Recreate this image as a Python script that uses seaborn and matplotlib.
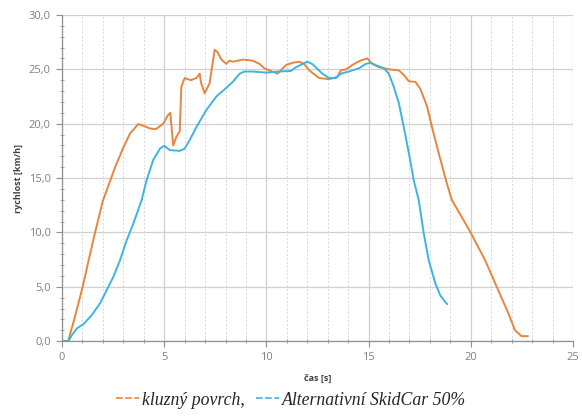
import pandas as pd
import seaborn as sns
import matplotlib

matplotlib.use('Agg')
import matplotlib.pyplot as plt
from matplotlib.lines import Line2D
from matplotlib.ticker import MultipleLocator, FuncFormatter

# cas [s] a rychlost [km/h] - kluzny povrch
kluzny_t = [0, 0.3, 0.6, 1.0, 1.3, 1.62, 2.0, 2.6, 3.0, 3.33,
            3.73, 4.0, 4.3, 4.6, 4.95, 5.19, 5.3, 5.44, 5.6, 5.76,
            5.84, 6.0, 6.3, 6.58, 6.74, 6.8, 6.98, 7.22, 7.3, 7.47,
            7.6, 7.8, 8.04, 8.2, 8.36, 8.85, 9.33, 9.66, 9.9, 10.15,
            10.55, 10.96, 11.28, 11.6, 11.85, 12.1, 12.58, 13.07, 13.47, 13.64,
            13.9, 14.29, 14.6, 14.94, 15.18, 15.5, 15.99, 16.48, 16.72, 16.97,
            17.29, 17.53, 17.86, 18.1, 18.43, 18.83, 19.07, 19.5, 19.97, 20.7,
            21.27, 21.84, 22.16, 22.48, 22.8]
kluzny_v = [0, 0, 2.0, 4.9, 7.4, 10, 12.9, 16.0, 17.8, 19.1,
            19.96, 19.8, 19.56, 19.5, 20.0, 20.8, 21.0, 18.0, 18.8, 19.3,
            23.4, 24.2, 24.0, 24.2, 24.6, 23.8, 22.8, 23.7, 24.7, 26.8,
            26.6, 25.9, 25.5, 25.8, 25.7, 25.9, 25.8, 25.5, 25.1, 24.9,
            24.6, 25.4, 25.6, 25.7, 25.5, 24.9, 24.2, 24.1, 24.3, 24.9,
            25.0, 25.5, 25.8, 26.0, 25.5, 25.2, 25.0, 24.9, 24.5, 23.9,
            23.85, 23.2, 21.6, 19.7, 17.3, 14.5, 13.0, 11.6, 10.06, 7.45,
            5.0, 2.55, 1.0, 0.46, 0.46]

# SkidCar 50%
skid_t = [0, 0.32, 0.5, 0.73, 1.05, 1.46, 1.87, 2.19, 2.51, 2.84,
          3.17, 3.49, 3.9, 4.14, 4.46, 4.79, 5.0, 5.28, 5.76, 6.0,
          6.25, 6.58, 7.06, 7.55, 8.04, 8.36, 8.69, 8.93, 9.33, 9.99,
          10.63, 11.2, 11.45, 11.77, 12.0, 12.24, 12.74, 13.07, 13.4, 13.64,
          14.04, 14.53, 14.86, 15.1, 15.34, 15.75, 15.99, 16.23, 16.48, 16.72,
          16.97, 17.21, 17.45, 17.7, 17.94, 18.27, 18.51, 18.75, 18.85]
skid_v = [0, 0, 0.6, 1.17, 1.56, 2.4, 3.5, 4.7, 5.9, 7.45,
          9.3, 10.8, 13.0, 14.8, 16.65, 17.7, 17.97, 17.57, 17.5, 17.7,
          18.5, 19.7, 21.25, 22.5, 23.3, 23.85, 24.6, 24.8, 24.8, 24.7,
          24.8, 24.85, 25.2, 25.5, 25.7, 25.5, 24.6, 24.2, 24.2, 24.6,
          24.8, 25.1, 25.5, 25.6, 25.4, 25.1, 24.6, 23.4, 21.9, 19.7,
          17.3, 14.8, 13.0, 9.9, 7.45, 5.3, 4.2, 3.6, 3.4]

labels = ["kluzný povrch,", "Alternativní SkidCar 50%"]
colors = ["#E8853D", "#3DB4E3"]

df = pd.concat([
    pd.DataFrame({"cas": kluzny_t, "rychlost": kluzny_v, "serie": labels[0]}),
    pd.DataFrame({"cas": skid_t, "rychlost": skid_v, "serie": labels[1]}),
])

sns.set_style("white")
plt.rcParams['font.family'] = ['Open Sans', 'DejaVu Sans']

fig = plt.figure(figsize=(5.82, 4.16), dpi=100)
ax = fig.add_axes([0.1065, 0.180, 0.878, 0.784])

sns.lineplot(data=df, x="cas", y="rychlost", hue="serie", palette=colors,
             estimator=None, sort=False, linewidth=1.4, legend=False, ax=ax)

ax.set_xlim(0, 25)
ax.set_ylim(0, 30)
ax.xaxis.set_major_locator(MultipleLocator(5))
ax.xaxis.set_minor_locator(MultipleLocator(1))
ax.yaxis.set_major_locator(MultipleLocator(5))
ax.yaxis.set_minor_locator(MultipleLocator(1))
ax.yaxis.set_major_formatter(FuncFormatter(lambda v, p: f"{v:.1f}".replace(".", ",")))

ax.grid(which="major", color="#d0d0d0", linewidth=0.9)
ax.grid(which="minor", axis="x", color="#d8d8d8", linewidth=0.7, linestyle=(0, (2, 2)))

for s in ["top", "right"]:
    ax.spines[s].set_visible(False)
for s in ["left", "bottom"]:
    ax.spines[s].set_color("#909090")
    ax.spines[s].set_linewidth(0.9)

ax.tick_params(which="major", length=4, direction="out", color="#909090",
               labelsize=8, labelcolor="#808080", pad=4, left=True, bottom=True)
ax.tick_params(which="minor", length=2.5, direction="inout", color="#909090",
               left=True, bottom=True)

ax.set_xlabel("čas [s]", fontsize=6.5, fontweight="bold", color="#404040", labelpad=8)
ax.set_ylabel("rychlost [km/h]", fontsize=6.5, fontweight="bold", color="#404040", labelpad=4)

handles = [Line2D([], [], color=c, linewidth=1.2, linestyle=(0, (4, 1.5))) for c in colors]
fig.legend(handles, labels, loc="center", bbox_to_anchor=(0.5, 0.038), ncol=2,
           frameon=False, handlelength=1.3, handletextpad=0.2, columnspacing=0.6,
           prop={"family": "Liberation Serif", "style": "italic", "size": 12.8})

plt.savefig("out.png", dpi=100)
